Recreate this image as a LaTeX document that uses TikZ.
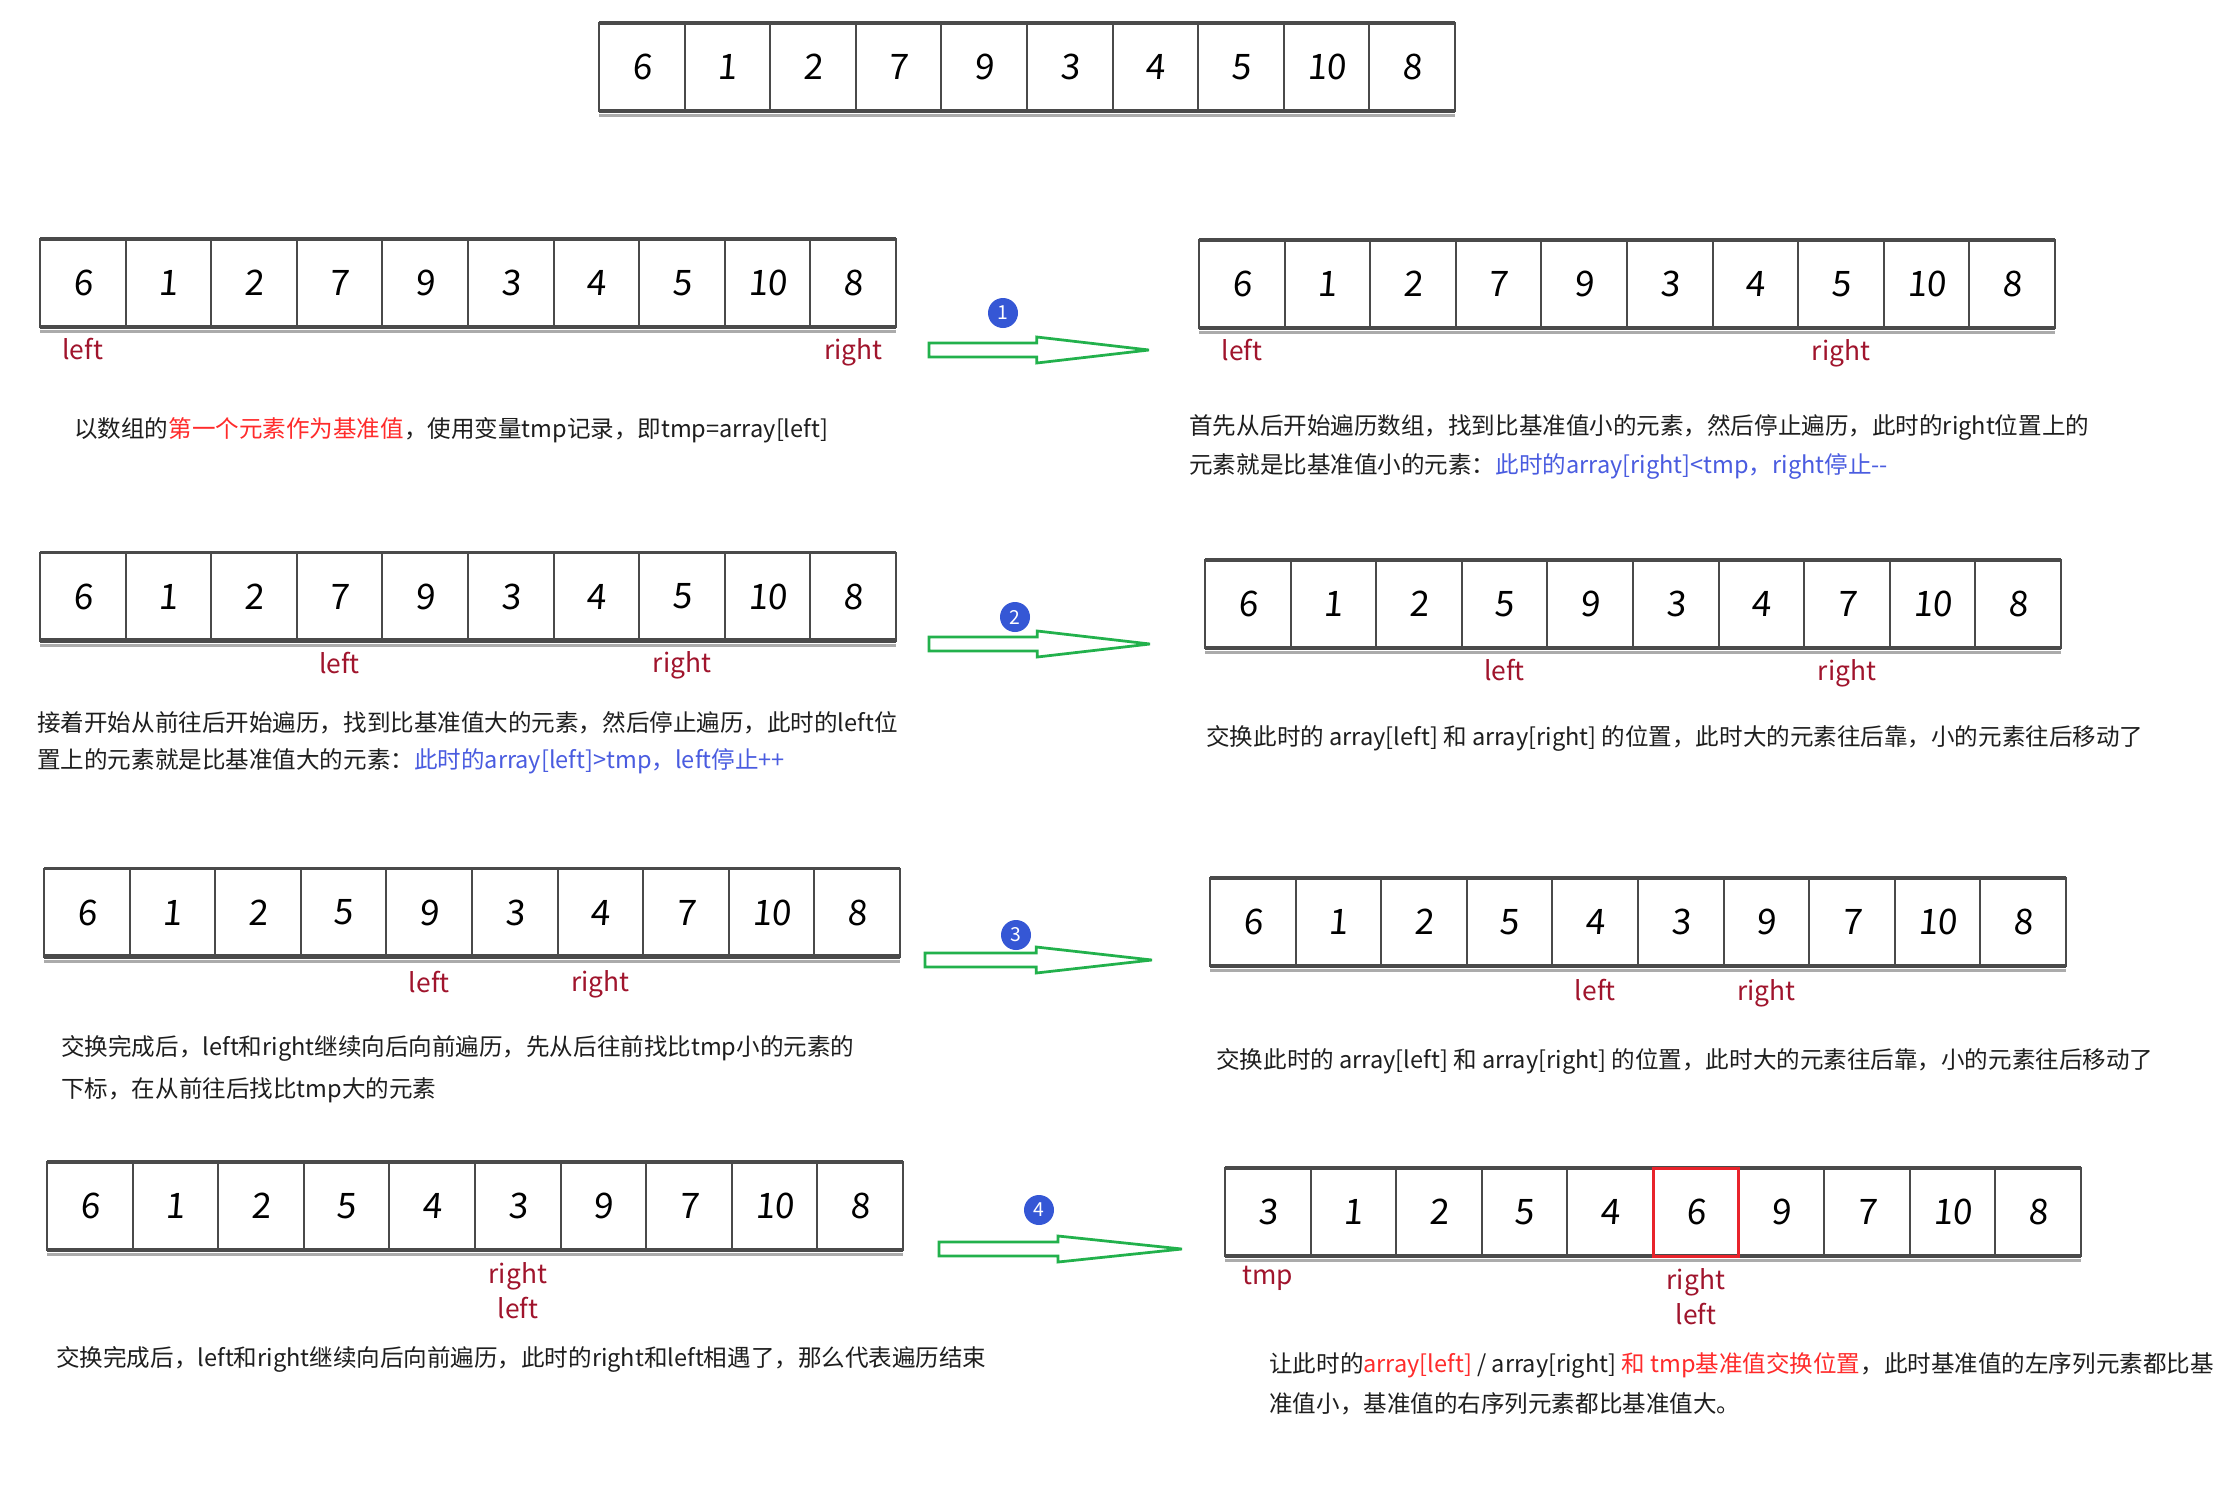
\documentclass[tikz,border=0pt]{standalone}
\usepackage{fontspec}
\setmainfont{Noto Sans CJK SC}
\newfontfamily\digitfont[FakeSlant=0.08]{Noto Sans CJK SC}
\usetikzlibrary{positioning, calc}
\definecolor{cellgray}{HTML}{4A4A4A}
\definecolor{shadowgray}{HTML}{ABABAB}
\definecolor{ptrred}{HTML}{A0142C}
\definecolor{keyred}{HTML}{FF2B2B}
\definecolor{boxred}{HTML}{E8232B}
\definecolor{noteblue}{HTML}{4A5CE0}
\definecolor{badgeblue}{HTML}{3557D5}
\definecolor{arrowgreen}{HTML}{22B14C}
\definecolor{txtdark}{HTML}{1E1E1E}

\tikzset{
  cell/.style={draw=cellgray, line width=0.4mm, minimum width=17.12mm, minimum height=17.6mm,
    inner sep=0pt, outer sep=0pt, font=\digitfont\fontsize{20pt}{24pt}\selectfont},
  rowbar/.style={cellgray, line width=0.7mm},
  shadowline/.style={shadowgray, line width=0.6mm},
  ptr/.style={text=ptrred, inner sep=0pt, font=\fontsize{15pt}{18pt}\selectfont},
  note/.style={anchor=base west, inner sep=0pt, text=txtdark, font=\fontsize{13.4pt}{18pt}\selectfont},
  badge/.style={circle, fill=badgeblue, text=white, minimum size=6mm, inner sep=0pt,
    font=\fontsize{11pt}{12pt}\selectfont},
  garrow/.style={arrowgreen, line width=0.55mm, line join=miter, miter limit=3}
}

% one row of ten cells: name, left-middle point, values
\newcommand{\numrow}[3]{%
  \foreach \val [count=\i] in {#3}
    \node[cell, xshift={(\i-0.5)*17.12mm}] (#1-\i) at (#2) {\val};
  \draw[shadowline] ([yshift=-0.9mm]#1-1.south west) -- ([yshift=-0.9mm]#1-10.south east);
  \draw[rowbar, line width=0.9mm] (#1-1.south west) -- (#1-10.south east);
  \draw[rowbar] (#1-1.north west) -- (#1-10.north east);
}

\begin{document}
\begin{tikzpicture}[x=0.2mm, y=-0.2mm]

% Canvas
\useasboundingbox (0,0) rectangle (2238,1504);
\fill[white] (0,0) rectangle (2238,1504);

% Starting array
\numrow{top}{599,67}{6,1,2,7,9,3,4,5,10,8}

% Step 1
\numrow{r1l}{40,283}{6,1,2,7,9,3,4,5,10,8}
\node[ptr, below=2.2mm of r1l-1] (r1l-lp) {left};
\node[ptr, below=2.2mm of r1l-10] (r1l-rp) {right};
\node[note] (n1l) at (74,437) {以数组的\textcolor{keyred}{第一个元素作为基准值}，使用变量tmp记录，即tmp=array[left]};

\numrow{r1r}{1199,284}{6,1,2,7,9,3,4,5,10,8}
\node[ptr, below=2.2mm of r1r-1] (r1r-lp) {left};
\node[ptr, below=2.2mm of r1r-8] (r1r-rp) {right};
\node[note] (n1r-a) at (1189,434) {首先从后开始遍历数组，找到比基准值小的元素，然后停止遍历，此时的right位置上的};
\node[note] (n1r-b) at ($(n1r-a.base west)+(0,39)$) {元素就是比基准值小的元素：\textcolor{noteblue}{此时的array[right]<tmp，right停止-{}-}};

% Step 2
\numrow{r2l}{40,596.5}{6,1,2,7,9,3,4,5,10,8}
\node[ptr, below=2.2mm of r2l-4] (r2l-lp) {left};
\node[ptr, below=2.2mm of r2l-8] (r2l-rp) {right};
\node[note] (n2l-a) at (37,731) {接着开始从前往后开始遍历，找到比基准值大的元素，然后停止遍历，此时的left位};
\node[note] (n2l-b) at ($(n2l-a.base west)+(0,37)$) {置上的元素就是比基准值大的元素：\textcolor{noteblue}{此时的array[left]>tmp，left停止++}};

\numrow{r2r}{1205,604}{6,1,2,5,9,3,4,7,10,8}
\node[ptr, below=2.2mm of r2r-4] (r2r-lp) {left};
\node[ptr, below=2.2mm of r2r-8] (r2r-rp) {right};
\node[note] (n2r) at (1206,745) {交换此时的 array[left] 和 array[right] 的位置，此时大的元素往后靠，小的元素往后移动了};

% Step 3
\numrow{r3l}{44,912.5}{6,1,2,5,9,3,4,7,10,8}
\node[ptr, below=2.8mm of r3l-5] (r3l-lp) {left};
\node[ptr, below=2.8mm of r3l-7] (r3l-rp) {right};
\node[note] (n3l-a) at (61,1055) {交换完成后，left和right继续向后向前遍历，先从后往前找比tmp小的元素的};
\node[note] (n3l-b) at ($(n3l-a.base west)+(0,42)$) {下标，在从前往后找比tmp大的元素};

\numrow{r3r}{1210,922}{6,1,2,5,4,3,9,7,10,8}
\node[ptr, below=2.6mm of r3r-5] (r3r-lp) {left};
\node[ptr, below=2.6mm of r3r-7] (r3r-rp) {right};
\node[note] (n3r) at (1216,1068) {交换此时的 array[left] 和 array[right] 的位置，此时大的元素往后靠，小的元素往后移动了};

% Step 4
\numrow{r4l}{47,1206}{6,1,2,5,4,3,9,7,10,8}
\node[ptr, below=2.4mm of r4l-6] (r4l-rp) {right};
\node[ptr, below=1.3mm of r4l-rp] (r4l-lp) {left};
\node[note] (n4l) at (56,1366) {交换完成后，left和right继续向后向前遍历，此时的right和left相遇了，那么代表遍历结束};

\numrow{r4r}{1225,1212}{3,1,2,5,4,6,9,7,10,8}
\draw[boxred, line width=0.6mm] (r4r-6.south west) rectangle (r4r-6.north east);
\node[ptr, below=2.0mm of r4r-1] (r4r-tp) {tmp};
\node[ptr, below=2.4mm of r4r-6] (r4r-rp) {right};
\node[ptr, below=1.3mm of r4r-rp] (r4r-lp) {left};
\node[note] (n4r-a) at (1269,1372) {让此时的\textcolor{keyred}{array[left]} / array[right] \textcolor{keyred}{和 tmp基准值交换位置}，此时基准值的左序列元素都比基};
\node[note] (n4r-b) at ($(n4r-a.base west)+(0,40)$) {准值小，基准值的右序列元素都比基准值大。};

% Hollow arrows between the rows
\foreach \n/\xa/\xb/\ya in {1/929/1149/350, 2/929/1150/644, 3/925/1152/960, 4/939/1182/1249} {
  \coordinate (a\n-s) at (\xa,\ya);
  \coordinate (a\n-e) at (\xb,\ya);
  \draw[garrow] ($(a\n-s)+(0,-7)$) -- ($(a\n-s)!0.49!(a\n-e)+(0,-7)$) -- ++(0,-6) -- (a\n-e)
    -- ($(a\n-s)!0.49!(a\n-e)+(0,13)$) -- ++(0,-6) -- ($(a\n-s)+(0,7)$) -- cycle;
}

% Step badges
\node[badge] (b1) at (1003,313) {1};
\node[badge] (b2) at (1015,617) {2};
\node[badge] (b3) at (1016,935) {3};
\node[badge] (b4) at (1039,1210) {4};

\end{tikzpicture}
\end{document}
